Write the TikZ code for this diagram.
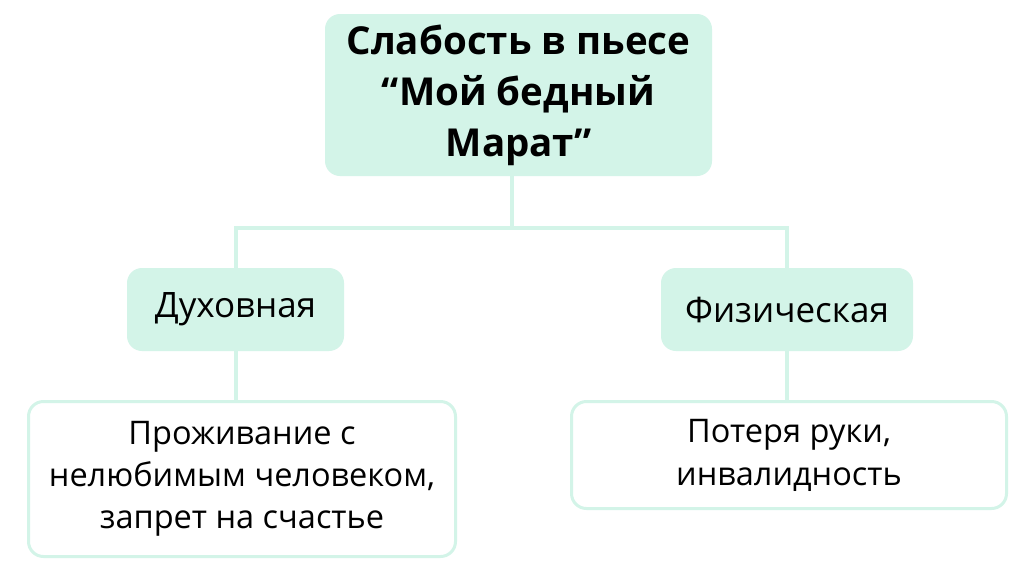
\documentclass[tikz,border=0pt]{standalone}
\usepackage{fontspec}
\setmainfont{Open Sans}
\definecolor{mint}{HTML}{D3F4E8}
\begin{document}
\begin{tikzpicture}[x=1pt,y=-1pt,
  greenbox/.style={fill=mint,draw=none,rounded corners=15pt,align=center,inner sep=0pt,text=black},
  whitebox/.style={fill=white,draw=mint,line width=3pt,rounded corners=15pt,align=center,inner sep=0pt,text=black},
  link/.style={draw=mint,line width=4pt}]
\useasboundingbox[fill=white] (0,0) rectangle (1024,576);
\node[greenbox,minimum width=387pt,minimum height=162pt,font=\fontsize{38.5}{51}\selectfont\bfseries] (top) at (518.5,95)
  {Слабость в пьесе\\“Мой бедный\\Марат”};
\node[greenbox,minimum width=217pt,minimum height=83pt,font=\fontsize{35}{42}\selectfont] (dux) at (235.5,309.5) {Духовная};
\node[greenbox,minimum width=252pt,minimum height=83pt,font=\fontsize{35}{42}\selectfont] (fiz) at (787,309.5) {Физическая};
\node[whitebox,minimum width=427pt,minimum height=155pt,font=\fontsize{32.5}{42}\selectfont] (l1) at (242,479)
  {Проживание с\\нелюбимым человеком,\\запрет на счастье};
\node[whitebox,minimum width=435pt,minimum height=107pt,font=\fontsize{32.5}{43}\selectfont] (l2) at (789,455)
  {Потеря руки,\\инвалидность};
\coordinate (j) at (512,228);
\draw[link] (top.south -| j) -- (j);
\draw[link] (dux.north) -- (dux.north |- j) -- (fiz.north |- j) -- (fiz.north);
\draw[link] (dux.south) -- (dux.south |- l1.north);
\draw[link] (fiz.south) -- (fiz.south |- l2.north);
\end{tikzpicture}
\end{document}
